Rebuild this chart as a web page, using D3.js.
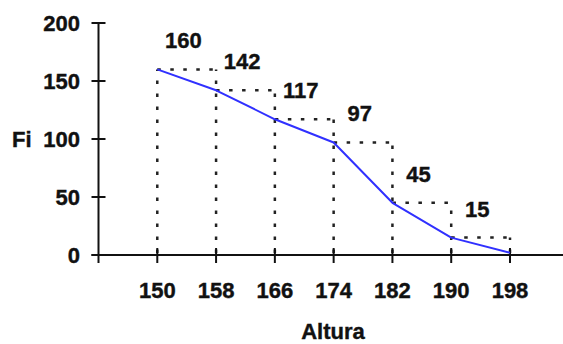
<!DOCTYPE html>
<html>
<head>
<meta charset="utf-8">
<script src="https://cdn.jsdelivr.net/npm/d3@7"></script>
<style>
  html, body { margin: 0; padding: 0; background: #fff; }
  svg { display: block; }
  text { font-family: "Liberation Sans", Arial, sans-serif; font-weight: bold; fill: #111; stroke: #111; stroke-width: 0.4px; }
</style>
</head>
<body>
<svg id="chart" width="563" height="344"></svg>
<script>
const alturas = [150, 158, 166, 174, 182, 190, 198];
const fi = [160, 142, 117, 97, 45, 15, 2];
const pointLabels = ["160", "142", "117", "97", "45", "15"];
const yTicks = [0, 50, 100, 150, 200];
const xTicks = [150, 158, 166, 174, 182, 190, 198];

const svg = d3.select("#chart");
const x = d3.scaleLinear().domain([142, 198]).range([98.5, 510]);
const y = d3.scaleLinear().domain([0, 200]).range([255, 23]);
const FS = 22;

// dotted step lines: one vertical per x (height = taller adjacent bar), one horizontal per bar
const dotted = svg.append("g")
  .attr("fill", "none").attr("stroke", "#222").attr("stroke-width", 2.5)
  .attr("stroke-dasharray", "3.5 9.5");
alturas.forEach((a, i) => {
  const top = i === 0 ? fi[0] : fi[i - 1];
  dotted.append("path").attr("d", d3.line()([[x(a), y(0) - 2], [x(a), y(top)]]));
});
for (let i = 0; i < alturas.length - 1; i++) {
  const v = fi[i];
  dotted.append("path").attr("d", d3.line()([[x(alturas[i]), y(v)], [x(alturas[i + 1]), y(v)]]));
}

// axes
const ax = svg.append("g").attr("stroke", "#111").attr("stroke-width", 2).attr("fill", "none");
ax.append("line").attr("x1", x(142)).attr("x2", x(142)).attr("y1", y(200)).attr("y2", y(0) + 8);
ax.append("line").attr("x1", x(142) - 7).attr("x2", 563).attr("y1", y(0)).attr("y2", y(0));
yTicks.forEach(t => {
  ax.append("line").attr("x1", x(142) - 7).attr("x2", x(142) + 7).attr("y1", y(t)).attr("y2", y(t));
});
xTicks.forEach(t => {
  ax.append("line").attr("x1", x(t)).attr("x2", x(t)).attr("y1", y(0) - 7).attr("y2", y(0) + 8);
});

// y tick labels
svg.append("g").selectAll("text").data(yTicks).join("text")
  .attr("x", 80).attr("y", d => y(d)).attr("dy", "0.36em")
  .attr("text-anchor", "end").attr("font-size", FS)
  .text(d => d);

// x tick labels
svg.append("g").selectAll("text").data(xTicks).join("text")
  .attr("x", d => x(d)).attr("y", 298)
  .attr("text-anchor", "middle").attr("font-size", FS)
  .text(d => d);

// blue line
svg.append("path")
  .datum(alturas.map((a, i) => [a, fi[i]]))
  .attr("fill", "none").attr("stroke", "#3030ff").attr("stroke-width", 2)
  .attr("stroke-linejoin", "round")
  .attr("d", d3.line().x(d => x(d[0])).y(d => y(d[1])));

// point labels
svg.append("g").selectAll("text").data(pointLabels).join("text")
  .attr("x", (d, i) => x(alturas[i]) + 26).attr("y", (d, i) => y(fi[i]) - 21)
  .attr("text-anchor", "middle").attr("font-size", FS)
  .text(d => d);

// axis titles
svg.append("text").attr("x", 12).attr("y", y(100)).attr("dy", "0.36em")
  .attr("font-size", FS).text("Fi");
svg.append("text").attr("x", 333).attr("y", 339)
  .attr("text-anchor", "middle").attr("font-size", FS).text("Altura");
</script>
</body>
</html>
